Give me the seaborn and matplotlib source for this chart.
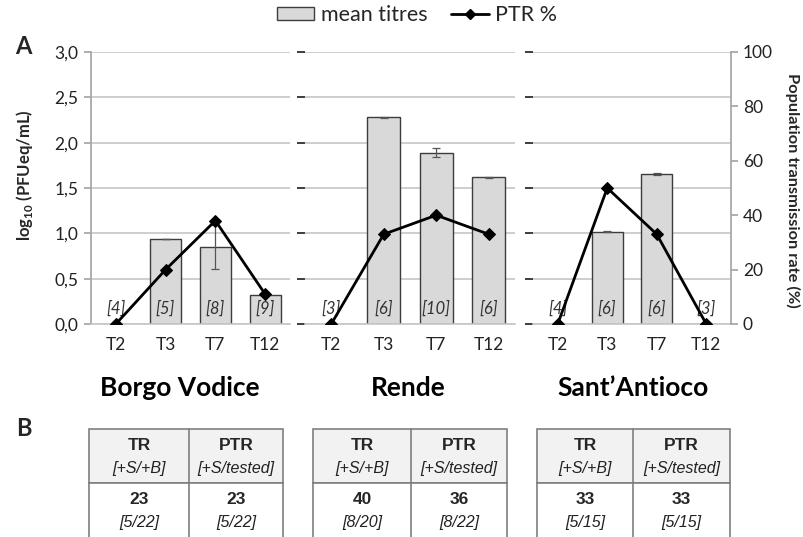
import numpy as np
import pandas as pd
import seaborn as sns
import matplotlib.pyplot as plt
from matplotlib.patches import Patch, Rectangle
from matplotlib.lines import Line2D
from matplotlib.ticker import FuncFormatter

# data
sites = ["Borgo Vodice", "Rende", "Sant\u2019Antioco"]
times = ["T2", "T3", "T7", "T12"]

titres = {
    "Borgo Vodice": [np.nan, 0.94, 0.85, 0.32],
    "Rende": [np.nan, 2.28, 1.89, 1.62],
    "Sant\u2019Antioco": [np.nan, 1.02, 1.65, np.nan],
}
titre_err = {
    "Borgo Vodice": [0, 0, 0.24, 0],
    "Rende": [0, 0.006, 0.05, 0.006],
    "Sant\u2019Antioco": [0, 0.006, 0.01, 0],
}
ptr_pct = {
    "Borgo Vodice": [0, 20, 38, 11],
    "Rende": [0, 33, 40, 33],
    "Sant\u2019Antioco": [0, 50, 33, 0],
}
n_samples = {
    "Borgo Vodice": [4, 5, 8, 9],
    "Rende": [3, 6, 10, 6],
    "Sant\u2019Antioco": [4, 6, 6, 3],
}

# table B
tr_vals = [23, 40, 33]
tr_frac = ["5/22", "8/20", "5/15"]
ptr_vals = [23, 36, 33]
ptr_frac = ["5/22", "8/22", "5/15"]

sns.set_theme(style="white")
plt.rcParams['font.family'] = ['Lato', 'DejaVu Sans']
plt.rcParams['mathtext.fontset'] = 'custom'
plt.rcParams['mathtext.rm'] = 'Lato'
plt.rcParams['mathtext.bf'] = 'Lato:bold'

W, H = 804, 537
fig = plt.figure(figsize=(W / 100, H / 100), dpi=100)

grid_c = "#c6c6c6"
axis_c = "#a6a6a6"
bar_c = "#d9d9d9"
edge_c = "#3c3c3c"
tick_fs = 12.5

# panel extents in pixels (left, right)
panels = [(91, 290), (305, 515), (533, 731)]
top_px, bot_px = 52, 324

comma = FuncFormatter(lambda v, p: f"{v:.1f}".replace(".", ","))

for i, site in enumerate(sites):
    l, r = panels[i]
    ax = fig.add_axes([l / W, 1 - bot_px / H, (r - l) / W, (bot_px - top_px) / H])
    df = pd.DataFrame({"time": times, "titre": titres[site]})
    sns.barplot(data=df, x="time", y="titre", order=times, ax=ax, color=bar_c,
                edgecolor=edge_c, linewidth=1.0, width=0.62, saturation=1)
    ax.errorbar(np.arange(4), np.nan_to_num(titres[site]), yerr=titre_err[site],
                fmt="none", ecolor="#555555", elinewidth=0.9, capsize=3, capthick=0.9)
    ax.set_xlim(-0.5, 3.5)
    ax.set_ylim(0, 3.0)
    ax.set_yticks(np.arange(0, 3.01, 0.5))
    ax.yaxis.set_major_formatter(comma)
    ax.grid(axis="y", color=grid_c, linewidth=1.2)
    ax.grid(axis="x", visible=False)
    ax.set_axisbelow(True)
    ax.set_xlabel("")
    ax.set_ylabel("")
    for s in ["top", "right", "left"]:
        ax.spines[s].set_visible(False)
    ax.spines["bottom"].set_color(grid_c)
    ax.spines["bottom"].set_linewidth(1.2)
    ax.tick_params(axis="x", length=0, labelsize=tick_fs, pad=9, colors="#222222")
    if i == 0:
        ax.spines["left"].set_visible(True)
        ax.spines["left"].set_color(axis_c)
        ax.tick_params(axis="y", length=5, direction="out", labelsize=tick_fs,
                       left=True, colors=axis_c, labelcolor="#222222", pad=4)
        ax.set_ylabel(r"log$_{\mathbf{10}}$ (PFUeq/mL)", fontsize=12, fontweight="bold")
        ax.yaxis.set_label_coords(-0.28, 0.548)
    else:
        ax.tick_params(axis="y", left=False, labelleft=False)

    for k, n in enumerate(n_samples[site]):
        ax.text(k, 0.165, f"[{n}]", ha="center", va="center", fontsize=12,
                style="italic", color="#333333")

    tw = ax.twinx()
    sns.lineplot(x=np.arange(4), y=ptr_pct[site], ax=tw, color="black", marker="D",
                 markersize=6, linewidth=2, markeredgecolor="black")
    tw.set_ylim(0, 100)
    tw.set_xlim(-0.5, 3.5)
    tw.grid(False)
    for s in ["top", "left", "bottom", "right"]:
        tw.spines[s].set_visible(False)
    if i == 2:
        tw.spines["right"].set_visible(True)
        tw.spines["right"].set_color(axis_c)
        tw.set_yticks(np.arange(0, 101, 20))
        tw.tick_params(axis="y", right=True, length=5, direction="out", colors=axis_c,
                       labelcolor="#222222", labelsize=tick_fs)
        tw.set_ylabel("Population transmission rate (%)", fontsize=11.8,
                      fontweight="bold", rotation=270, va="center")
        tw.yaxis.set_label_coords(1.312, 0.49)
    else:
        tw.tick_params(axis="y", right=False, labelright=False)

    title_x = [180, 408, 633][i]
    fig.text(title_x / W, 1 - 388 / H, site, ha="center", va="center",
             fontsize=19, fontweight="bold", color="black")

fig.text(23 / W, 1 - 47 / H, "A", fontsize=17, fontweight="bold", ha="center", va="center")
fig.text(24 / W, 1 - 428 / H, "B", fontsize=17, fontweight="bold", ha="center", va="center")

handles = [Patch(facecolor=bar_c, edgecolor=edge_c, linewidth=1.0),
           Line2D([], [], color="black", lw=2, marker="D", markersize=5)]
fig.legend(handles, ["mean titres", "PTR %"], loc="center", bbox_to_anchor=(417 / W, 1 - 15 / H),
           ncol=2, frameon=False, fontsize=15.5, handlelength=1.75, handleheight=0.6,
           handletextpad=0.3, columnspacing=1.1, borderpad=0)

# tables in pixel coordinates
tax = fig.add_axes([0, 0, 1, 1])
tax.set_xlim(0, W)
tax.set_ylim(H, 0)
tax.axis("off")
tables = [(89, 189, 283), (313, 411, 507), (537, 633, 730)]
head_top, head_bot, body_bot = 429, 483, 560
for i, (x0, xm, x1) in enumerate(tables):
    tax.add_patch(Rectangle((x0, head_top), x1 - x0, head_bot - head_top,
                            facecolor="#f2f2f2", edgecolor="#7f7f7f", lw=1.2))
    tax.add_patch(Rectangle((x0, head_bot), x1 - x0, body_bot - head_bot,
                            facecolor="white", edgecolor="#7f7f7f", lw=1.2))
    tax.plot([xm, xm], [head_top, body_bot], color="#7f7f7f", lw=1.2)
    cols = [((x0 + xm) / 2, "TR", "[+S/+B]", tr_vals[i], tr_frac[i]),
            ((xm + x1) / 2, "PTR", "[+S/tested]", ptr_vals[i], ptr_frac[i])]
    for cx, name, sub, val, frac in cols:
        tax.text(cx, 446, name, ha="center", va="center", fontsize=12.5,
                 fontweight="bold", family="Liberation Sans")
        tax.text(cx, 468, sub, ha="center", va="center", fontsize=11.5,
                 style="italic", family="Liberation Sans", color="#222222")
        tax.text(cx, 500, str(val), ha="center", va="center", fontsize=12.5,
                 fontweight="bold", family="Liberation Sans")
        tax.text(cx, 522, f"[{frac}]", ha="center", va="center", fontsize=11.5,
                 style="italic", family="Liberation Sans", color="#222222")

fig.savefig("out.png", dpi=100)
